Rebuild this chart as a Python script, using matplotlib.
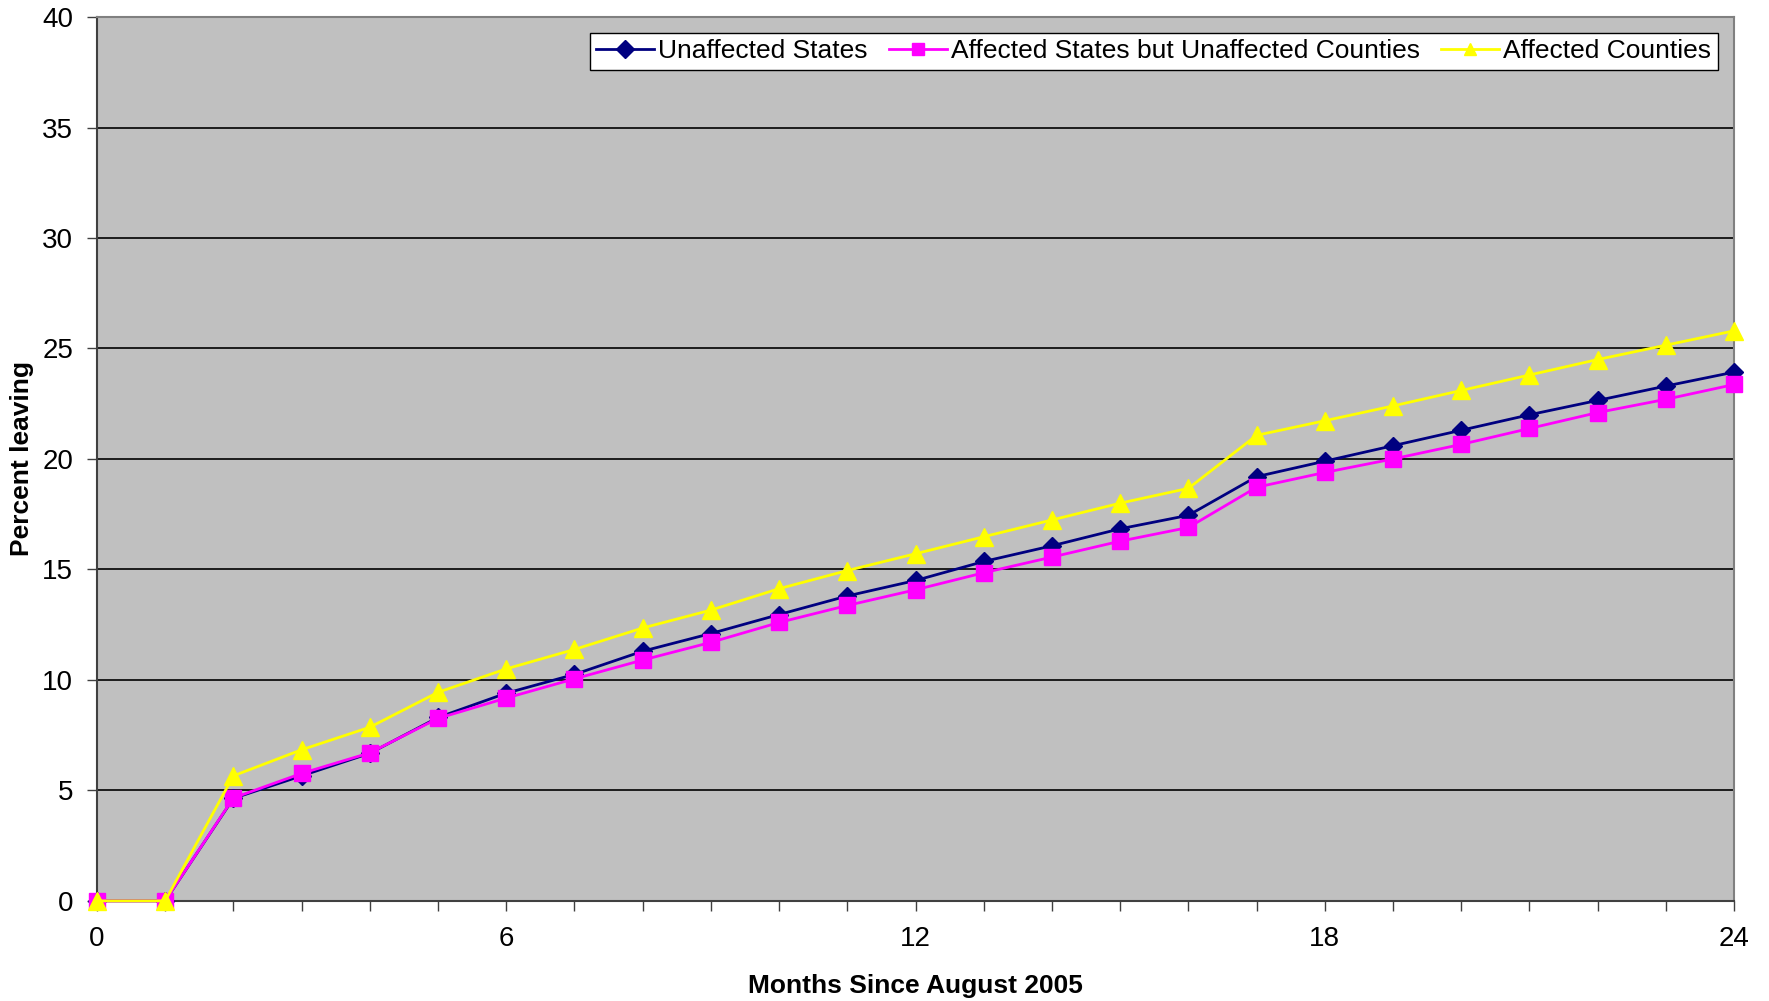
import numpy as np
import matplotlib.pyplot as plt

months = list(range(25))

unaffected_states = [0, 0, 4.64, 5.66, 6.68, 8.3, 9.4, 10.25, 11.3, 12.1, 12.96, 13.8, 14.5,
                     15.36, 16.07, 16.84, 17.45, 19.2, 19.9, 20.6, 21.3, 22.0, 22.65, 23.3, 23.93]
affected_states = [0, 0, 4.66, 5.77, 6.7, 8.26, 9.18, 10.05, 10.9, 11.7, 12.6, 13.37, 14.08,
                   14.85, 15.56, 16.28, 16.9, 18.72, 19.39, 20.0, 20.66, 21.38, 22.1, 22.7, 23.37]
affected_counties = [0, 0, 5.66, 6.84, 7.86, 9.44, 10.5, 11.38, 12.35, 13.16, 14.13, 14.95, 15.71,
                     16.48, 17.24, 18.0, 18.67, 21.07, 21.73, 22.4, 23.1, 23.8, 24.5, 25.15, 25.8]

plt.rcParams['font.family'] = ['Liberation Sans', 'DejaVu Sans']

fig = plt.figure(figsize=(17.69, 10.01), dpi=100)
ax = fig.add_axes([0.0548, 0.100, 0.9255, 0.883])
ax.set_facecolor('#C0C0C0')

ax.plot(months, unaffected_states, color='#000080', marker='D', markersize=9, lw=2,
        label='Unaffected States', zorder=3, clip_on=False)
ax.plot(months, affected_states, color='#FF00FF', marker='s', markersize=11, lw=2,
        label='Affected States but Unaffected Counties', zorder=4, clip_on=False)
ax.plot(months, affected_counties, color='#FFFF00', marker='^', markersize=13, lw=2,
        label='Affected Counties', zorder=5, clip_on=False)

ax.set_xlim(0, 24)
ax.set_ylim(0, 40)
ax.set_xticks([0, 6, 12, 18, 24])
ax.set_xticks(months, minor=True)
ax.set_yticks(np.arange(0, 41, 5))
ax.yaxis.grid(True, color='black', lw=1.2)
ax.set_axisbelow(True)
ax.tick_params(axis='both', which='both', direction='out', labelsize=20, color='#404040')
ax.tick_params(axis='both', which='major', length=7, width=1)
ax.tick_params(axis='x', which='minor', length=7, width=1)
ax.tick_params(axis='x', pad=11)
ax.tick_params(axis='y', pad=10)

ax.spines['left'].set_color('#404040')
ax.spines['bottom'].set_color('#404040')
ax.spines['right'].set_color('#808080')
ax.spines['top'].set_color('#808080')
for s in ax.spines.values():
    s.set_linewidth(1.5)

ax.set_xlabel('Months Since August 2005', fontsize=19, fontweight='bold', labelpad=16)
ax.set_ylabel('Percent leaving', fontsize=19, fontweight='bold', labelpad=6)

leg = ax.legend(loc='upper right', ncol=3, fontsize=19, frameon=True, fancybox=False,
                edgecolor='black', framealpha=1, borderpad=0.25, handlelength=2.2,
                handletextpad=0.15, columnspacing=0.8, bbox_to_anchor=(0.998, 0.997))
leg.get_frame().set_linewidth(1)
for h in leg.legend_handles:
    h.set_markersize(9)

fig.savefig('out.png', dpi=100, facecolor='white')
